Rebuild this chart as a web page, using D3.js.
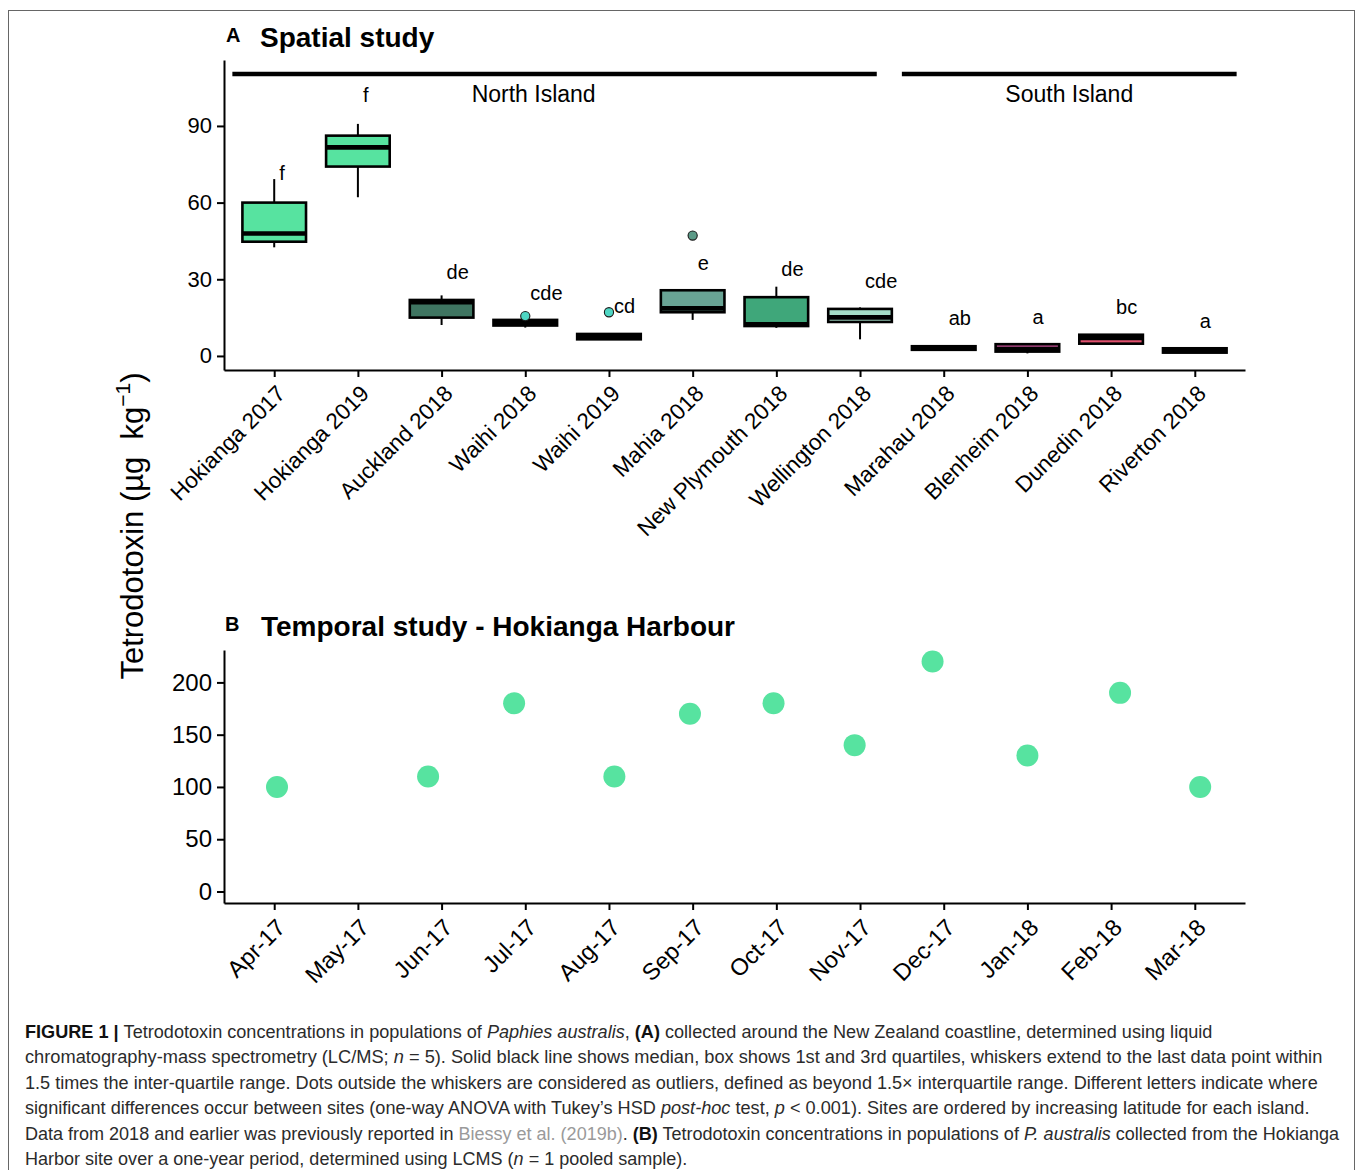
<!DOCTYPE html>
<html>
<head>
<meta charset="utf-8">
<script src="https://cdn.jsdelivr.net/npm/d3@7"></script>
<style>
  body { margin: 0; background: #fff; }
  svg text { font-family: "Liberation Sans", Arial, Helvetica, sans-serif; }
</style>
</head>
<body>
<svg id="fig" width="1358" height="1170"></svg>
<script>
// ---- Panel A: tetrodotoxin per site (µg/kg), box summaries ----
const sites = ["Hokianga 2017", "Hokianga 2019", "Auckland 2018", "Waihi 2018", "Waihi 2019",
  "Mahia 2018", "New Plymouth 2018", "Wellington 2018", "Marahau 2018", "Blenheim 2018",
  "Dunedin 2018", "Riverton 2018"];
const whiskerLow  = [42.5, 62.1, 12.1, 11.1, 6.4, 14.1, 11.0, 6.5, 2.3, 1.0, 4.7, 1.3];
const q1          = [44.7, 74.1, 15.0, 11.9, 6.5, 17.1, 11.7, 13.3, 2.4, 1.7, 4.8, 1.3];
const median      = [47.9, 81.6, 21.0, 13.0, 7.4, 18.6, 12.4, 15.1, 3.1, 2.7, 7.0, 2.0];
const q3          = [60.0, 86.2, 21.9, 14.1, 8.6, 25.7, 23.0, 18.4, 3.8, 4.6, 8.3, 3.0];
const whiskerHigh = [69.2, 90.8, 23.7, 14.4, 8.7, 25.7, 27.1, 19.0, 3.9, 4.9, 8.6, 3.0];
const outlierSites  = ["Waihi 2018", "Waihi 2019", "Mahia 2018"];
const outlierValues = [15.6, 17.1, 47.1];
// Tukey HSD group letters and the height at which each is printed
const letters = ["f", "f", "de", "cde", "cd", "e", "de", "cde", "ab", "a", "bc", "a"];
const letterY = [71.6, 102.1, 32.9, 24.6, 19.6, 36.4, 34.0, 29.3, 14.9, 15.3, 19.2, 13.7];
// Island groupings (positions in site-index units)
const islandNames = ["North Island", "South Island"];
const islandFrom  = [-0.5, 7.5];
const islandTo    = [7.2, 11.5];
const islandLabelAt = [3.1, 9.5];
const islandLineY = 110.3;
const islandLabelY = 102.5;
const yTicksA = [0, 30, 60, 90];

// ---- Panel B: monthly pooled samples at Hokianga Harbour ----
const monthLabels = ["Apr-17", "May-17", "Jun-17", "Jul-17", "Aug-17", "Sep-17",
  "Oct-17", "Nov-17", "Dec-17", "Jan-18", "Feb-18", "Mar-18"];
const sampleDates = ["2017-04-02", "2017-05-27", "2017-06-27", "2017-08-03", "2017-08-31",
  "2017-09-30", "2017-10-30", "2017-11-27", "2018-01-01", "2018-02-04", "2018-03-03"];
const sampleTTX = [100, 110, 180, 110, 170, 180, 140, 220, 130, 190, 100];
const yTicksB = [0, 50, 100, 150, 200];

// ---- styling ----
const siteFill = {
  "Hokianga 2017": "#57e3a0", "Hokianga 2019": "#57e3a0", "Auckland 2018": "#3f7561",
  "Waihi 2018": "#2f6b5e", "Waihi 2019": "#2f7b6b", "Mahia 2018": "#69a394",
  "New Plymouth 2018": "#3fa77a", "Wellington 2018": "#a6dec8", "Marahau 2018": "#8b3a62",
  "Blenheim 2018": "#c04e93", "Dunedin 2018": "#e0506e", "Riverton 2018": "#a0306a"
};
const outlierFill = { "Waihi 2018": "#4ed6c3", "Waihi 2019": "#4ed6c3", "Mahia 2018": "#5b9a87" };
const pointColour = "#57e3a0";

const svg = d3.select("#fig");

// outer figure frame
svg.append("rect").attr("x", 8.5).attr("y", 10.5).attr("width", 1346).attr("height", 1200)
  .attr("fill", "none").attr("stroke", "#666").attr("stroke-width", 1);

const left = 224, right = 1245;

// ================= Panel A =================
const xA = d3.scalePoint().domain(sites).range([left, right]).padding(0.6);
const xIdx = d3.scaleLinear().domain([-0.6, sites.length - 1 + 0.6]).range([left, right]);
const yA = d3.scaleLinear().domain([-5.5, 115.8]).range([370, 60]);
const boxW = xA.step() * 0.76;

const gA = svg.append("g");

// axes
const axA_y = gA.append("g").attr("transform", `translate(${left},0)`)
  .call(d3.axisLeft(yA).tickValues(yTicksA).tickSize(7).tickSizeOuter(0).tickPadding(5));
const axA_x = gA.append("g").attr("transform", `translate(0,370)`)
  .call(d3.axisBottom(xA).tickSize(7).tickSizeOuter(0));
[axA_y, axA_x].forEach(a => {
  a.select(".domain").attr("stroke", "#000").attr("stroke-width", 2);
  a.selectAll(".tick line").attr("stroke", "#000").attr("stroke-width", 2);
});
axA_y.selectAll(".tick text").attr("font-size", 22).attr("fill", "#000")
  .attr("font-family", "Liberation Sans, Arial, sans-serif");
axA_x.selectAll(".tick text")
  .attr("font-size", 22.5).attr("fill", "#000").attr("font-family", "Liberation Sans, Arial, sans-serif")
  .attr("text-anchor", "end").attr("dy", null).attr("y", null)
  .attr("transform", "translate(12,25) rotate(-45)");

// island bars
islandNames.forEach((name, i) => {
  gA.append("line").attr("x1", xIdx(islandFrom[i])).attr("x2", xIdx(islandTo[i]))
    .attr("y1", yA(islandLineY)).attr("y2", yA(islandLineY))
    .attr("stroke", "#000").attr("stroke-width", 4.5);
  gA.append("text").attr("x", xIdx(islandLabelAt[i])).attr("y", yA(islandLabelY))
    .attr("dy", "0.36em").attr("text-anchor", "middle").attr("font-size", 23).text(name);
});

// boxes
sites.forEach((s, i) => {
  const cx = xA(s);
  const g = gA.append("g");
  g.append("line").attr("x1", cx).attr("x2", cx).attr("y1", yA(q3[i])).attr("y2", yA(whiskerHigh[i]))
    .attr("stroke", "#000").attr("stroke-width", 2);
  g.append("line").attr("x1", cx).attr("x2", cx).attr("y1", yA(q1[i])).attr("y2", yA(whiskerLow[i]))
    .attr("stroke", "#000").attr("stroke-width", 2);
  g.append("rect").attr("x", cx - boxW / 2).attr("width", boxW)
    .attr("y", yA(q3[i])).attr("height", Math.max(0.5, yA(q1[i]) - yA(q3[i])))
    .attr("fill", siteFill[s]).attr("stroke", "#000").attr("stroke-width", 2.6);
  g.append("line").attr("x1", cx - boxW / 2).attr("x2", cx + boxW / 2)
    .attr("y1", yA(median[i])).attr("y2", yA(median[i]))
    .attr("stroke", "#000").attr("stroke-width", 4.6);
});

// outliers
outlierSites.forEach((s, i) => {
  gA.append("circle").attr("cx", xA(s)).attr("cy", yA(outlierValues[i])).attr("r", 4.6)
    .attr("fill", outlierFill[s]).attr("stroke", "#1a1a1a").attr("stroke-width", 1.1);
});

// group letters
sites.forEach((s, i) => {
  gA.append("text").attr("x", xA(s) + 5).attr("y", yA(letterY[i])).attr("dy", "0.36em")
    .attr("font-size", 20).text(letters[i]);
});

// panel title
svg.append("text").attr("x", 226).attr("y", 42).attr("font-size", 20).attr("font-weight", "bold").text("A");
svg.append("text").attr("x", 260).attr("y", 47).attr("font-size", 28).attr("font-weight", "bold").text("Spatial study");

// ================= Panel B =================
const xB = d3.scaleLinear().domain([-0.6, monthLabels.length - 1 + 0.6]).range([left, right]);
const yB = d3.scaleLinear().domain([-11, 231]).range([903, 650]);

// fractional month position of a sampling date (0 = April 2017)
function monthPos(str) {
  const d = d3.timeParse("%Y-%m-%d")(str);
  const start = d3.timeMonth.floor(d);
  const next = d3.timeMonth.offset(start, 1);
  const idx = (d.getFullYear() - 2017) * 12 + d.getMonth() - 3;
  return idx + (d - start) / (next - start);
}

const gB = svg.append("g");
const axB_y = gB.append("g").attr("transform", `translate(${left},0)`)
  .call(d3.axisLeft(yB).tickValues(yTicksB).tickSize(7).tickSizeOuter(0).tickPadding(5));
const axB_x = gB.append("g").attr("transform", `translate(0,903)`)
  .call(d3.axisBottom(xB).tickValues(d3.range(monthLabels.length))
    .tickFormat(i => monthLabels[i]).tickSize(7).tickSizeOuter(0));
[axB_y, axB_x].forEach(a => {
  a.select(".domain").attr("stroke", "#000").attr("stroke-width", 2);
  a.selectAll(".tick line").attr("stroke", "#000").attr("stroke-width", 2);
});
axB_y.selectAll(".tick text").attr("font-size", 24).attr("fill", "#000")
  .attr("font-family", "Liberation Sans, Arial, sans-serif");
axB_x.selectAll(".tick text")
  .attr("font-size", 23.5).attr("fill", "#000").attr("font-family", "Liberation Sans, Arial, sans-serif")
  .attr("text-anchor", "end").attr("dy", null).attr("y", null)
  .attr("transform", "translate(12,26) rotate(-45)");

gB.selectAll("circle.sample").data(sampleDates).join("circle").attr("class", "sample")
  .attr("cx", d => xB(monthPos(d))).attr("cy", (d, i) => yB(sampleTTX[i]))
  .attr("r", 11).attr("fill", pointColour);

svg.append("text").attr("x", 225).attr("y", 631).attr("font-size", 20).attr("font-weight", "bold").text("B");
svg.append("text").attr("x", 261).attr("y", 636).attr("font-size", 28).attr("font-weight", "bold")
  .text("Temporal study - Hokianga Harbour");

// shared y-axis title
const yTitle = svg.append("text")
  .attr("transform", "translate(143,526) rotate(-90)")
  .attr("text-anchor", "middle").attr("font-size", 31).style("white-space", "pre");
yTitle.append("tspan").text("Tetrodotoxin (µg  kg");
yTitle.append("tspan").attr("font-size", 21).attr("dy", -13).text("−1");
yTitle.append("tspan").attr("dy", 13).text(")");

// ================= Caption =================
const captionLines = [
  [["FIGURE 1 | ", "b"], ["Tetrodotoxin concentrations in populations of ", ""], ["Paphies australis", "i"], [", ", ""],
   ["(A)", "b"], [" collected around the New Zealand coastline, determined using liquid", ""]],
  [["chromatography-mass spectrometry (LC/MS; ", ""], ["n", "i"], [" = 5). Solid black line shows median, box shows 1st and 3rd quartiles, whiskers extend to the last data point within", ""]],
  [["1.5 times the inter-quartile range. Dots outside the whiskers are considered as outliers, defined as beyond 1.5× interquartile range. Different letters indicate where", ""]],
  [["significant differences occur between sites (one-way ANOVA with Tukey’s HSD ", ""], ["post-hoc", "i"], [" test, ", ""], ["p", "i"],
   [" < 0.001). Sites are ordered by increasing latitude for each island.", ""]],
  [["Data from 2018 and earlier was previously reported in ", ""], ["Biessy et al. (2019b)", "link"], [". ", ""], ["(B)", "b"],
   [" Tetrodotoxin concentrations in populations of ", ""], ["P. australis", "i"], [" collected from the Hokianga", ""]],
  [["Harbor site over a one-year period, determined using LCMS (", ""], ["n", "i"], [" = 1 pooled sample).", ""]]
];
// set width of each caption line
const captionWidths = [1188, 1298, 1293, 1285, 1315, 663];
const capG = svg.append("g");
captionLines.forEach((segs, li) => {
  const t = capG.append("text").attr("font-size", 18.5).attr("fill", "#2b2b2b").style("white-space", "pre");
  segs.forEach(([txt, st]) => {
    const ts = t.append("tspan").text(txt);
    if (st === "b") ts.attr("font-weight", "bold").attr("fill", "#111");
    if (st === "i") ts.attr("font-style", "italic");
    if (st === "link") ts.attr("fill", "#9a9a9a");
  });
  const sx = captionWidths[li] / t.node().getComputedTextLength();
  t.attr("transform", `translate(25,${1038 + li * 25.4}) scale(${sx},1)`);
});
</script>
</body>
</html>
